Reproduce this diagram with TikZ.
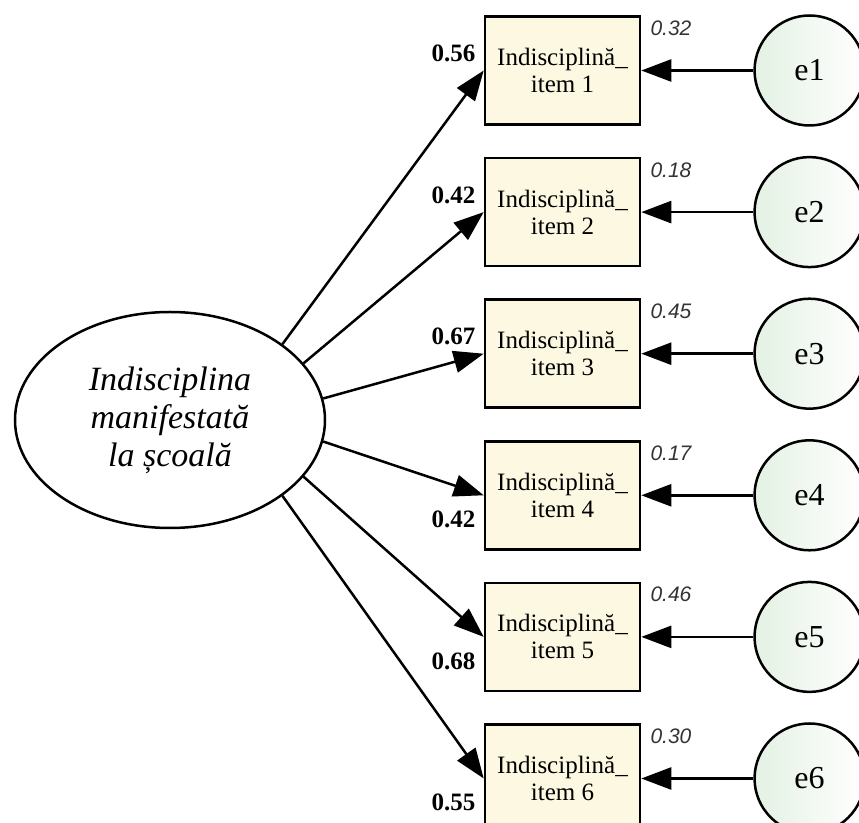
\documentclass[tikz,border=0pt]{standalone}
\usepackage{fontspec}
\setmainfont{Liberation Serif}
\newfontfamily\numfont{Liberation Sans}
\usetikzlibrary{positioning, arrows.meta, shapes.geometric}
\definecolor{itemfill}{HTML}{FCF8E2}
\definecolor{errfill}{HTML}{E4F1E4}

\begin{document}
\begin{tikzpicture}[x=0.5pt, y=-0.5pt, node distance=15.5pt, line width=1.25pt,
    itembox/.style={draw, line width=1.3pt, fill=itemfill, minimum width=77.5pt, minimum height=54pt, align=center, font=\fontsize{12.5}{13.5}\selectfont},
    errcircle/.style={draw, circle, left color=errfill, right color=white, minimum size=55pt, font=\fontsize{16}{16}\selectfont},
    loadlab/.style={font=\fontsize{12.5}{13}\selectfont\bfseries, inner sep=0pt},
    r2lab/.style={font=\numfont\fontsize{10.5}{11}\selectfont\itshape, text=black!80, inner sep=0pt},
    loadarrow/.style={-{Triangle[length=15pt, width=11pt]}}]
  \useasboundingbox (0,0) rectangle (859,823);
  % latent factor
  \node[draw, ellipse, minimum width=155pt, minimum height=108pt, align=center, font=\fontsize{17}{19}\selectfont\itshape] (ind) at (170,420) {Indisciplina\\manifestată\\la școală};
  % observed items
  \node[itembox] (b1) at (562.5,70.5) {Indisciplină\_\\item 1};
  \node[itembox, below=of b1] (b2) {Indisciplină\_\\item 2};
  \node[itembox, below=of b2] (b3) {Indisciplină\_\\item 3};
  \node[itembox, below=of b3] (b4) {Indisciplină\_\\item 4};
  \node[itembox, below=of b4] (b5) {Indisciplină\_\\item 5};
  \node[itembox, below=of b5] (b6) {Indisciplină\_\\item 6};
  % error terms
  \node[errcircle, right=56pt of b1] (e1) {e1};
  \node[errcircle, right=56pt of b2] (e2) {e2};
  \node[errcircle, right=56pt of b3] (e3) {e3};
  \node[errcircle, right=56pt of b4] (e4) {e4};
  \node[errcircle, right=56pt of b5] (e5) {e5};
  \node[errcircle, right=56pt of b6] (e6) {e6};
  % loadings
  \draw[loadarrow] (ind.34) -- (b1.west);
  \draw[loadarrow] (ind.23) -- (b2.west);
  \draw[loadarrow] (ind.8.5) -- (b3.west);
  \draw[loadarrow] (ind.-8.5) -- (b4.west);
  \draw[loadarrow] (ind.-23) -- (b5.west);
  \draw[loadarrow] (ind.-34) -- (b6.west);
  \draw[loadarrow] (e1) -- (b1);
  \draw[loadarrow] (e2) -- (b2);
  \draw[loadarrow] (e3) -- (b3);
  \draw[loadarrow] (e4) -- (b4);
  \draw[loadarrow] (e5) -- (b5);
  \draw[loadarrow] (e6) -- (b6);
  \node[loadlab, left=3.5pt of b1.west, yshift=8.5pt] {0.56};
  \node[loadlab, left=3.5pt of b2.west, yshift=8.5pt] {0.42};
  \node[loadlab, left=3.5pt of b3.west, yshift=8.5pt] {0.67};
  \node[loadlab, left=3.5pt of b4.west, yshift=-12pt] {0.42};
  \node[loadlab, left=3.5pt of b5.west, yshift=-12pt] {0.68};
  \node[loadlab, left=3.5pt of b6.west, yshift=-12pt] {0.55};
  % squared multiple correlations
  \node[r2lab, right=4pt of b1.north east, yshift=-6.5pt] {0.32};
  \node[r2lab, right=4pt of b2.north east, yshift=-6.5pt] {0.18};
  \node[r2lab, right=4pt of b3.north east, yshift=-6.5pt] {0.45};
  \node[r2lab, right=4pt of b4.north east, yshift=-6.5pt] {0.17};
  \node[r2lab, right=4pt of b5.north east, yshift=-6.5pt] {0.46};
  \node[r2lab, right=4pt of b6.north east, yshift=-6.5pt] {0.30};
\end{tikzpicture}
\end{document}
